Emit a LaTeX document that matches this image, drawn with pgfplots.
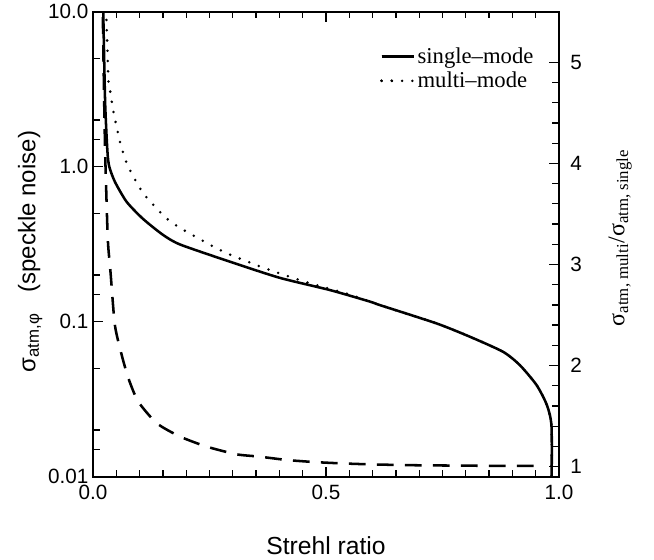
\documentclass[border=0pt]{standalone}
\usepackage{fontspec}
\setmainfont{Liberation Sans}
\newfontfamily\serif{Liberation Serif}
\usepackage{pgfplots}
\pgfplotsset{compat=1.18}

% single-mode speckle noise
\pgfplotstableread{
S sig
0.0215 12
0.022 10
0.026 2.62
0.031 1.25
0.035 1.0
0.047 0.80
0.072 0.595
0.107 0.462
0.150 0.364
0.187 0.315
0.294 0.244
0.401 0.192
0.509 0.160
0.594 0.135
0.616 0.128
0.7375 0.0975
0.809 0.080
0.880 0.064
0.916 0.0525
0.952 0.039
0.974 0.029
0.984 0.021
0.984 0.008
}\single

% multi-mode speckle noise
\pgfplotstableread{
S sig
0.026 12
0.027 10
0.029 8.6
0.033 3.71
0.036 3.2
0.044 2.26
0.058 1.45
0.074 1.026
0.108 0.673
0.158 0.464
0.195 0.39
0.280 0.283
0.366 0.223
0.455 0.181
0.544 0.152
0.594 0.135
0.616 0.128
0.7375 0.0975
0.809 0.080
0.880 0.064
0.916 0.0525
0.952 0.039
0.974 0.029
0.984 0.021
0.984 0.008
}\multi

% ratio multi/single
\pgfplotstableread{
S r
0.0205 6.0
0.021 5.5
0.024 4.61
0.026 4.12
0.028 3.79
0.032 3.23
0.038 2.90
0.047 2.40
0.0615 2.106
0.076 1.874
0.097 1.644
0.137 1.429
0.187 1.297
0.244 1.198
0.308 1.122
0.355 1.100
0.416 1.066
0.473 1.046
0.53 1.033
0.591 1.023
0.652 1.017
0.709 1.013
0.888 1.007
0.963 1.007
}\ratio

\begin{document}
\begin{tikzpicture}
\pgfplotsset{
  every axis/.append style={
    scale only axis, width=349.5pt, height=348.75pt,
    xmin=0, xmax=1,
    axis line style={line width=1.2pt},
    tick style={line width=1pt, black},
    major tick length=7.5pt, minor tick length=5pt,
    tick align=inside,
    tick label style={font=\fontsize{15.5}{18}\selectfont},
  },
}
\begin{axis}[
  ymode=log, ymin=0.01, ymax=10,
  ytick={0.01,0.1,1,10},
  yticklabels={0.01,0.1,1.0,10.0},
  minor ytick={0.015,0.02,0.05,0.15,0.2,0.5,1.5,2,5},
  ytick pos=left,
  xtick={0,0.5,1},
  xticklabels={0.0,0.5,1.0},
  xticklabel style={yshift=-3pt},
  minor x tick num=9,
  xlabel={Strehl ratio},
  xlabel style={at={(axis description cs:0.5,-0.148)}, anchor=center,
    font=\fontsize{18.5}{22}\selectfont},
  ylabel={σ\textsubscript{atm,φ}\hspace{0.6em} (speckle noise)},
  ylabel style={at={(axis description cs:-0.135,0.484)}, anchor=center,
    font=\fontsize{18}{22}\selectfont},
  legend style={draw=none, fill=none, at={(axis description cs:0.96,0.935)},
    anchor=north east, font=\serif\fontsize{17}{20}\selectfont,
    row sep=1pt},
  legend cell align=left,
  legend image code/.code={\path (0pt,0pt) -- (24pt,0pt); \draw[#1] (0pt,0pt) -- (15pt,0pt);},
]
\coordinate (bl) at (rel axis cs:0,0);
\addplot[black, line width=1.9pt, smooth, tension=0.4] table[x=S, y=sig] {\single};
\addlegendentry{single–mode}
\addplot[black, line width=2.1pt, line cap=round, dash pattern=on 0pt off 7.7pt, smooth, tension=0.4] table[x=S, y=sig] {\multi};
\addlegendentry{multi–mode}
\end{axis}
\begin{axis}[
  axis x line=none,
  axis y line*=right,
  y axis line style={-},
  ymin=0.9, ymax=5.5,
  ytick={1,2,3,4,5},
  yticklabels={1,2,3,4,5},
  yticklabel style={xshift=5pt},
  minor y tick num=4,
  ylabel={\serif σ\textsubscript{atm, multi}/σ\textsubscript{atm, single}},
  ylabel style={at={(axis description cs:1.131,0.514)}, anchor=center,
    font=\fontsize{18}{21}\selectfont},
]
\addplot[black, line width=1.9pt, dash pattern=on 12.5pt off 8.5pt, smooth, tension=0.4] table[x=S, y=r] {\ratio};
\end{axis}
\path (bl) ++(-69.75pt,-62.25pt) rectangle ++(490.5pt,418.5pt);
\end{tikzpicture}
\end{document}
